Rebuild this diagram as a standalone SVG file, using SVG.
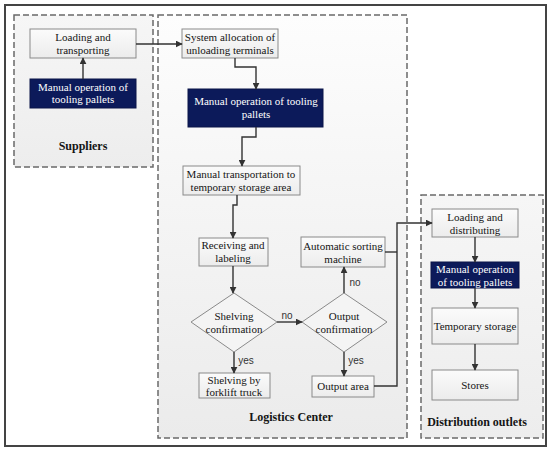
<svg xmlns="http://www.w3.org/2000/svg" width="550" height="452" viewBox="0 0 550 452">
<defs>
<linearGradient id="gBox" x1="0" y1="0" x2="0" y2="1"><stop offset="0" stop-color="#fbfbfb"/><stop offset="1" stop-color="#ececec"/></linearGradient>
<linearGradient id="gCont" x1="0" y1="0" x2="0" y2="1"><stop offset="0" stop-color="#f6f6f6"/><stop offset="1" stop-color="#ededed"/></linearGradient>
<linearGradient id="gLog" x1="0" y1="0" x2="0" y2="1"><stop offset="0" stop-color="#fdfdfd"/><stop offset="1" stop-color="#ebebeb"/></linearGradient>
<marker id="ar" viewBox="0 0 10 10" refX="9" refY="5" markerWidth="7" markerHeight="7" orient="auto" markerUnits="userSpaceOnUse"><path d="M0,0 L10,5 L0,10 z" fill="#333"/></marker>
</defs>
<style>
.cont{fill:url(#gCont);stroke:#6a6a6a;stroke-width:1.5;stroke-dasharray:6,3}
.log{fill:url(#gLog)}
.box{fill:url(#gBox);stroke:#8a8a8a;stroke-width:1}
.navy{fill:#0c1a5a;stroke:#0a1448;stroke-width:1}
.dia{fill:#f4f4f4;stroke:#8a8a8a;stroke-width:1}
text{font-family:"Liberation Serif","Times New Roman",serif;font-size:11px;text-anchor:middle;fill:#151515}
.w{fill:#ffffff}
.b{font-weight:bold;font-size:12px}
.s{font-family:"Liberation Sans",Arial,sans-serif;font-size:10px;fill:#333}
.c{fill:none;stroke:#333;stroke-width:1.4;marker-end:url(#ar)}
.cn{fill:none;stroke:#333;stroke-width:1.4}
</style>
<rect x="5" y="5" width="541" height="441" fill="#ffffff" stroke="#444" stroke-width="2"/>
<g id="suppliers">
<rect class="cont" x="14" y="15" width="139" height="152"/>
<text class="b" x="83" y="150">Suppliers</text>
</g>
<g id="logistics">
<rect class="cont log" x="158" y="15" width="249" height="423"/>
<text class="b" x="291" y="421">Logistics Center</text>
</g>
<g id="distribution">
<rect class="cont" x="421" y="195" width="122" height="243"/>
<text class="b" x="477" y="426">Distribution outlets</text>
</g>
<g id="n1"><rect class="box" x="30" y="29" width="106" height="29"/><text x="83" y="41">Loading and</text><text x="83" y="54">transporting</text></g>
<g id="n2"><rect class="navy" x="30" y="79" width="106" height="29"/><text class="w" x="83" y="91">Manual operation of</text><text class="w" x="83" y="103">tooling pallets</text></g>
<g id="n3"><rect class="box" x="182" y="29" width="96" height="29"/><text x="230" y="41">System allocation of</text><text x="230" y="54">unloading terminals</text></g>
<g id="n4"><rect class="navy" x="188" y="89" width="135" height="38"/><text class="w" x="256" y="105">Manual operation of tooling</text><text class="w" x="256" y="118">pallets</text></g>
<g id="n5"><rect class="box" x="183" y="166" width="117" height="29"/><text x="241" y="178">Manual transportation to</text><text x="241" y="191">temporary storage area</text></g>
<g id="n6"><rect class="box" x="199" y="238" width="69" height="28"/><text x="233" y="249">Receiving and</text><text x="233" y="262">labeling</text></g>
<g id="n7"><polygon class="dia" points="234,293 277,322 234,352 191,322"/><text x="234" y="320">Shelving</text><text x="234" y="333">confirmation</text></g>
<g id="n8"><polygon class="dia" points="344,293 387,322 344,352 302,322"/><text x="344" y="320">Output</text><text x="344" y="333">confirmation</text></g>
<g id="n9"><rect class="box" x="301" y="237" width="84" height="30"/><text x="343" y="250">Automatic sorting</text><text x="343" y="263">machine</text></g>
<g id="n10"><rect class="box" x="199" y="373" width="71" height="25"/><text x="234" y="384">Shelving by</text><text x="234" y="396">forklift truck</text></g>
<g id="n11"><rect class="box" x="312" y="376" width="62" height="21"/><text x="343" y="390">Output area</text></g>
<g id="n12"><rect class="box" x="432" y="209" width="86" height="28"/><text x="475" y="221">Loading and</text><text x="475" y="234">distributing</text></g>
<g id="n13"><rect class="navy" x="431" y="262" width="88" height="26"/><text class="w" x="475" y="273">Manual operation</text><text class="w" x="475" y="286">of tooling pallets</text></g>
<g id="n14"><rect class="box" x="432" y="308" width="86" height="36"/><text x="475" y="330">Temporary storage</text></g>
<g id="n15"><rect class="box" x="432" y="370" width="86" height="30"/><text x="475" y="389">Stores</text></g>
<g id="connectors">
<path class="c" d="M83,79 V58"/>
<path class="c" d="M136,44 H182"/>
<path class="c" d="M235,58 V67 H256 V89"/>
<path class="c" d="M256,127 V137 H242 V166"/>
<path class="c" d="M237,195 V205 H233 V238"/>
<path class="c" d="M233,266 V293"/>
<path class="c" d="M277,322 H302"/>
<path class="c" d="M344,293 V267"/>
<path class="c" d="M234,352 V373"/>
<path class="c" d="M344,352 V376"/>
<path class="c" d="M374,386 H397 V223 H432"/>
<path class="cn" d="M385,252 H397"/>
<path class="c" d="M475,237 V262"/>
<path class="c" d="M475,288 V308"/>
<path class="c" d="M475,344 V370"/>
<text class="s" x="287" y="319">no</text>
<text class="s" x="355" y="286">no</text>
<text class="s" x="246" y="364">yes</text>
<text class="s" x="356" y="364">yes</text>
</g>
</svg>
